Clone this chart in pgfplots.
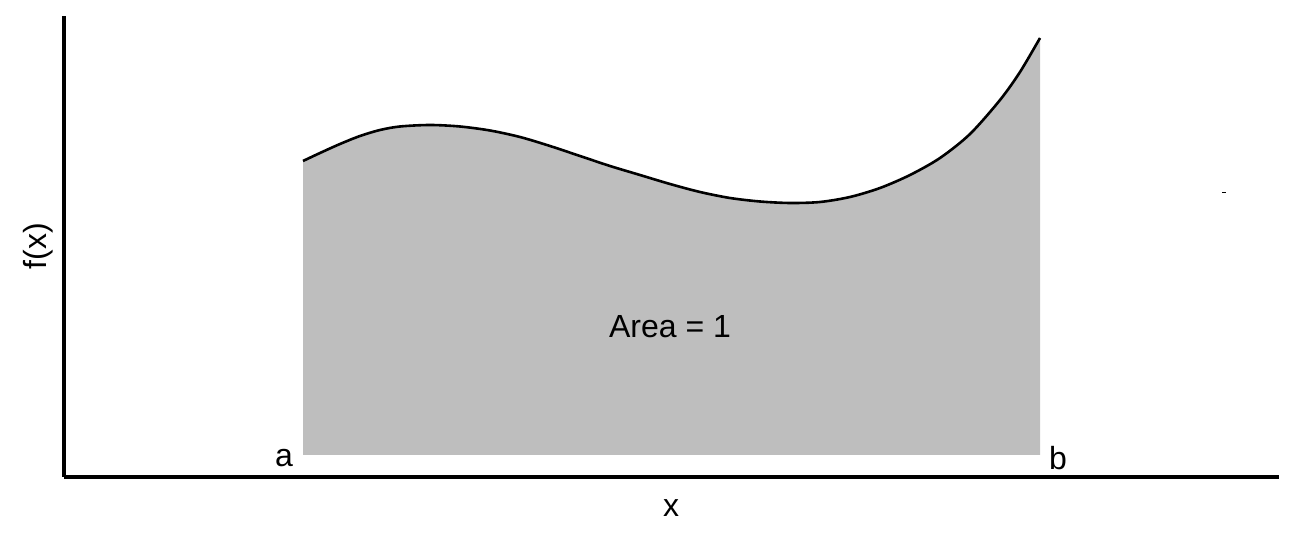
\documentclass[border=0pt]{standalone}
\usepackage{fontspec}
\setmainfont{Liberation Sans}
\usepackage{pgfplots}
\pgfplotsset{compat=1.18}
\usepgfplotslibrary{fillbetween}
\definecolor{areagray}{RGB}{190,190,190}
\pgfplotstableread{
x y
303 379
320 387
340 396
360 404
380 410
400 413.5
430 415
460 413.5
490 409.5
520 403
550 394
580 384
610 374
640 365
670 356
700 348
730 342
760 338.5
790 337
820 338
850 343
880 352
910 365
940 382
970 406
1000 440
1020 468
1040 502
}\curve
\begin{document}
\begin{tikzpicture}[x=1pt,y=1pt]
\begin{axis}[
  scale only axis,
  width=607.5pt, height=230.5pt,
  xmin=64, xmax=1279, ymin=63, ymax=524,
  axis lines=left,
  axis line style={-, line width=1.6pt},
  xtick=\empty, ytick=\empty,
  clip=false,
]
\path (axis cs:0,0) rectangle (axis cs:1296,540);
\addplot[name path=f, draw=none, smooth, tension=0.5] table {\curve};
\addplot[name path=base, draw=none] coordinates {(303,85) (1040,85)};
\addplot[fill=areagray, draw=none] fill between[of=f and base];
\addplot[black, line width=1.3pt, smooth, tension=0.5] table {\curve};
\addplot[black, line width=0.5pt] coordinates {(1222,347) (1226,347)};
\node[font=\fontsize{16}{19}\selectfont] at (axis cs:670,213) {Area = 1};
\node[font=\fontsize{16}{19}\selectfont] at (axis cs:284,82) {a};
\node[font=\fontsize{16}{19}\selectfont] at (axis cs:1058,82) {b};
\node[font=\fontsize{16}{19}\selectfont] at (axis cs:671,32) {x};
\node[font=\fontsize{16}{19}\selectfont, rotate=90] at (axis cs:38,294) {f(x)};
\end{axis}
\end{tikzpicture}
\end{document}
